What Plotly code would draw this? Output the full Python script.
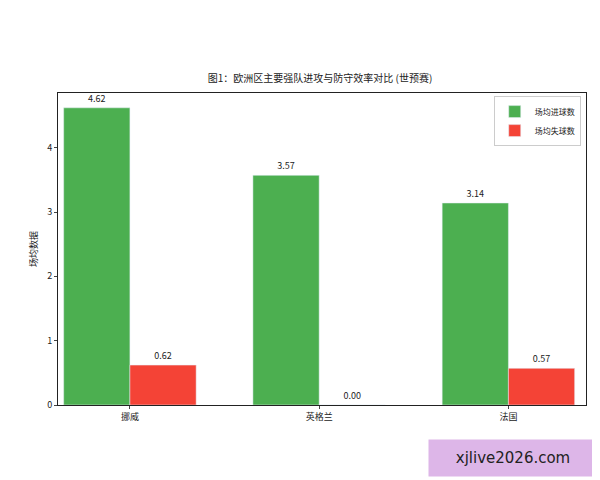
import plotly.graph_objects as go

teams = ["挪威", "英格兰", "法国"]
goals_for = [4.62, 3.57, 3.14]
goals_against = [0.62, 0.00, 0.57]

font = "Noto Sans CJK SC"
fig = go.Figure()
fig.add_trace(go.Bar(x=teams, y=goals_for, name="场均进球数", marker_color="#4CAF50",
                     text=[f"{v:.2f}" for v in goals_for], textposition="outside",
                     textfont=dict(size=9, color="#222")))
fig.add_trace(go.Bar(x=teams, y=goals_against, name="场均失球数", marker_color="#F44336",
                     text=[f"{v:.2f}" for v in goals_against], textposition="outside",
                     textfont=dict(size=9, color="#222")))

fig.update_layout(
    width=600, height=480, barmode="group", bargap=0.3, bargroupgap=0,
    plot_bgcolor="white", paper_bgcolor="white",
    font=dict(family=font, size=9, color="#222"),
    margin=dict(l=50, r=22, t=85, b=83),
    title=dict(text="图1：欧洲区主要强队进攻与防守效率对比 (世预赛)", x=0.52, y=0.86,
               xanchor="center", font=dict(size=10)),
    legend=dict(x=0.99, y=0.99, xanchor="right", yanchor="top",
                bordercolor="#ccc", borderwidth=1, font=dict(size=8), itemwidth=30),
)
fig.update_xaxes(range=[-0.38, 2.41], showline=True, linecolor="#222", mirror=True,
                 ticks="outside", ticklen=3)
fig.update_yaxes(range=[0, 4.85], dtick=1, showline=True, linecolor="#222", mirror=True,
                 ticks="outside", ticklen=3, showgrid=False, zeroline=False,
                 title=dict(text="场均数据", font=dict(size=9), standoff=8))

fig.add_annotation(xref="paper", yref="paper", x=1.022, y=-0.11, xanchor="right", yanchor="top",
                   text="xjlive2026.com", showarrow=False, font=dict(size=15, family="DejaVu Sans", color="#222"),
                   bgcolor="#DDB6E8", borderpad=9, width=150)

fig.write_html("out.html")
